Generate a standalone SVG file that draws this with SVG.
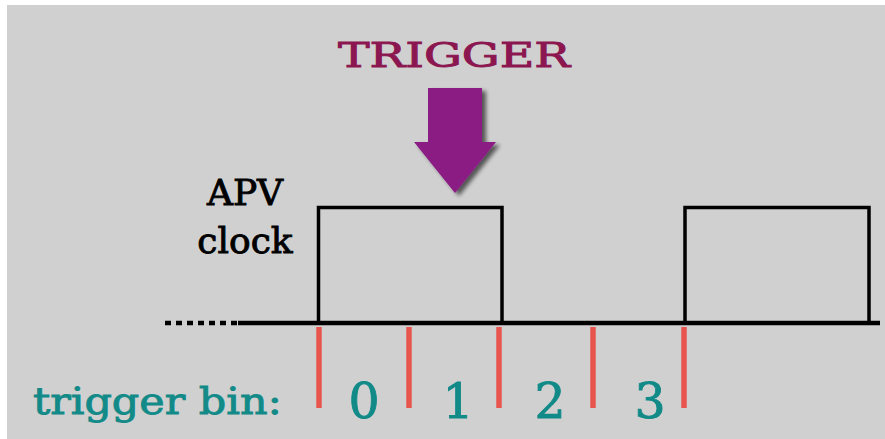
<svg xmlns="http://www.w3.org/2000/svg" width="885" height="439" viewBox="0 0 885 439">
<style>
.txt{font-family:"DejaVu Serif","Liberation Serif",serif}
.wave{fill:none;stroke:#000;stroke-width:3.5;stroke-linejoin:miter}
.tick{stroke:#e8554e;stroke-width:5.5;stroke-linecap:butt}
.teal{fill:#118a88;stroke:#118a88;stroke-width:0.9}
</style>
<defs>
<filter id="sh" x="-20%" y="-20%" width="150%" height="150%">
<feGaussianBlur in="SourceAlpha" stdDeviation="2"/>
<feOffset dx="4" dy="3" result="b"/>
<feComponentTransfer><feFuncA type="linear" slope="0.6"/></feComponentTransfer>
<feMerge><feMergeNode/><feMergeNode in="SourceGraphic"/></feMerge>
</filter>
</defs>
<rect x="0" y="0" width="885" height="439" fill="#fff"/>
<rect x="7" y="5" width="878" height="434" fill="#d0d0d0"/>
<g id="trigger">
<text class="txt" x="454" y="67" font-size="33" text-anchor="middle" fill="#8b1650" stroke="#8b1650" stroke-width="0.9" textLength="232" lengthAdjust="spacingAndGlyphs">TRIGGER</text>
<path d="M428 88 H482 V142 H496 L455 193 L414 142 H428 Z" fill="#8a1c84" filter="url(#sh)"/>
</g>
<g id="apv-label" class="txt" font-size="36" text-anchor="middle" fill="#000" stroke="#000" stroke-width="0.9">
<text x="245" y="205">APV</text>
<text x="245" y="253">clock</text>
</g>
<g id="clock">
<path class="wave" d="M238 323 H318.5 V207.5 H502 V323 H685 V207.5 H869 V323 H880"/>
<line x1="238" y1="323" x2="880" y2="323" stroke="#000" stroke-width="4.5"/>
<line x1="165" y1="323" x2="238" y2="323" stroke="#000" stroke-width="4.5" stroke-dasharray="6 5"/>
</g>
<g id="ticks">
<line class="tick" x1="319" y1="327" x2="319" y2="408"/>
<line class="tick" x1="409" y1="327" x2="409" y2="408"/>
<line class="tick" x1="499" y1="327" x2="499" y2="408"/>
<line class="tick" x1="593" y1="327" x2="593" y2="408"/>
<line class="tick" x1="684" y1="327" x2="684" y2="408"/>
</g>
<g id="bins" class="txt teal">
<text x="33" y="414" font-size="38" textLength="249" lengthAdjust="spacingAndGlyphs">trigger bin:</text>
<g font-size="49" text-anchor="middle">
<text x="364" y="418">0</text>
<text x="458" y="418">1</text>
<text x="550" y="418">2</text>
<text x="650" y="418">3</text>
</g>
</g>
</svg>
